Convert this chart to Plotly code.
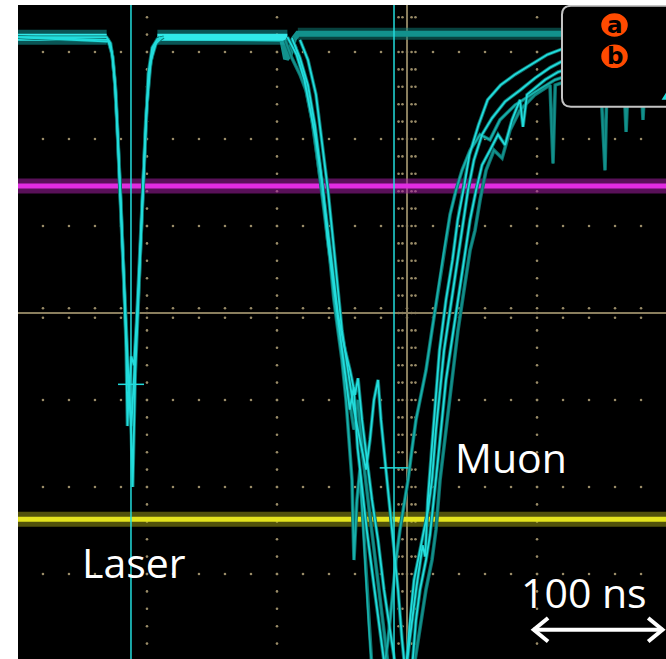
import plotly.graph_objects as go

# Oscilloscope capture: time in ns (0 = screen centre), amplitude in divisions
T_MIN, T_MAX = -299.2, 199.2
V_MIN, V_MAX = -3.977, 3.54

# channel baselines (divisions)
cyan_level = 3.17
cyan_idle_level = 3.21
magenta_level = 1.46
yellow_level = -2.37

# laser pulses (three overlaid sweeps)
laser_t_a = [-300, -231, -228, -226, -224, -222, -220, -218, -216, -215, -214, -212, -210, -208, -206, -204, -202, -199, -196, -192, -187]
laser_v_a = [3.17, 3.17, 3.10, 2.90, 2.55, 1.95, 1.25, 0.50, -0.40, -1.30, -0.90, -0.50, -0.60, -0.10, 0.55, 1.30, 1.95, 2.75, 3.05, 3.15, 3.17]
laser_t_b = [-300, -229.5, -226.5, -224.5, -222.5, -220.5, -218.5, -216.5, -214.5, -213, -212, -211, -210, -209, -207, -205, -203, -201, -198, -195, -190]
laser_v_b = [3.17, 3.12, 2.95, 2.60, 2.00, 1.30, 0.55, -0.30, -0.80, -1.10, -1.40, -2.00, -1.20, -0.70, 0.00, 0.70, 1.50, 2.20, 2.80, 3.05, 3.17]
laser_t_c = [-300, -230, -227, -225, -223, -221, -219, -217, -215, -213.5, -212, -210, -208, -206, -204, -202, -200, -197, -193, -188]
laser_v_c = [3.17, 3.14, 3.00, 2.70, 2.20, 1.50, 0.80, 0.10, -0.60, -1.00, -1.30, -0.80, -0.20, 0.40, 1.10, 1.80, 2.40, 2.90, 3.10, 3.17]

# muon pulses (overlaid sweeps)
muon_t_1 = [-92, -85, -79, -75, -70, -65, -61, -56, -50, -44, -41, -38, -35, -31, -25, -19, -15, -2, 2, 7, 12, 14, 16, 19, 22, 25, 30, 35, 39, 44, 48, 55, 62, 72, 83, 95, 108, 122, 148, 199]
muon_v_1 = [3.17, 2.97, 2.68, 2.39, 1.99, 1.47, 0.84, 0.26, -0.43, -1.11, -0.85, -1.55, -1.95, -2.49, -3.18, -3.87, -4.3, -4.3, -3.76, -3.18, -2.67, -2.80, -2.15, -1.57, -1.0, -0.43, 0.15, 0.61, 1.07, 1.46, 1.82, 2.16, 2.45, 2.62, 2.74, 2.85, 2.97, 3.05, 3.11, 3.16]
muon_t_2 = [-88.5, -82.3, -76.2, -70.8, -66.9, -62.3, -57.7, -53.1, -48.5, -43.8, -40, -37.7, -34.6, -30, -26.9, -22.3, -17.7, -13.1, -8.5, -0.8, 2.3, 5.4, 8.5, 13.1, 16.2, 19.2, 22.3, 25.4, 28.5, 33.1, 37.7, 42.3, 46.9, 51.5, 57.7, 65.4, 75.4, 86.9, 98.5, 110, 121.5, 148.5, 199.2]
muon_v_2 = [3.16, 2.93, 2.62, 2.16, 1.70, 1.13, 0.49, -0.02, -0.37, -0.66, -0.94, -0.75, -1.23, -1.80, -2.15, -2.61, -3.18, -3.64, -4.10, -4.10, -3.53, -3.07, -2.84, -2.49, -2.26, -1.92, -1.34, -0.89, -0.43, 0.03, 0.49, 0.95, 1.41, 1.76, 2.05, 2.24, 2.43, 2.56, 2.70, 2.82, 2.91, 3.02, 3.11]
muon_t_3 = [-82.3, -76.2, -70, -65.4, -60.8, -56.9, -53.1, -50, -45.4, -40.8, -36.2, -31.5, -28.5, -25.4, -22.3, -20, -16.2, -11.5, -6.9, -3.8, -1.5, 3.8, 6.9, 10, 14.6, 17.7, 20.8, 23.8, 26.9, 30, 34.6, 39.2, 43.8, 48.5, 53.1, 57.7, 63.8, 70, 75.4, 80.8, 86.9, 89.2, 92.3, 98.5, 106.2, 116.2, 148.5, 199.2]
muon_v_3 = [3.14, 2.91, 2.51, 1.99, 1.41, 0.84, 0.26, -0.20, -0.66, -1.11, -1.46, -1.80, -1.46, -1.0, -0.77, -1.23, -1.80, -2.49, -3.18, -3.76, -4.10, -4.10, -3.53, -3.18, -2.84, -2.55, -2.15, -1.69, -1.23, -0.77, -0.31, 0.15, 0.61, 1.07, 1.41, 1.70, 1.87, 2.05, 1.93, 2.22, 2.45, 2.14, 2.51, 2.59, 2.68, 2.77, 2.91, 3.05]
muon_t_4 = [-93.8, -88.5, -82.3, -77.7, -73.1, -68.5, -63.8, -59.2, -54.6, -50, -45.4, -40.8, -37.7, -34.6, -30, -25.4, -20.8, -16.2, -13.1, 3.8, 10, 14.6, 19.2, 22.3, 25.4, 30, 34.6, 39.2, 43.8, 48.5, 52.3, 56.2, 60.8, 66.9, 73.1, 79.2, 86.9, 98.5, 110, 112.3, 114, 148.5, 152.3, 154, 166.5, 168.5, 170.5, 179.5, 181.5, 183.5, 199.2]
muon_v_4 = [3.14, 2.93, 2.74, 2.56, 2.22, 1.76, 1.24, 0.72, 0.15, -0.37, -0.89, -1.34, -1.0, -1.57, -2.15, -2.72, -3.30, -3.87, -4.22, -4.22, -3.64, -3.18, -2.84, -2.49, -1.92, -1.34, -0.77, -0.20, 0.26, 0.72, 0.95, 1.30, 1.64, 1.87, 1.78, 2.10, 2.33, 2.51, 2.62, 1.72, 2.62, 2.79, 1.64, 2.79, 2.80, 2.08, 2.80, 2.82, 2.22, 2.85, 2.97]
muon_t_5 = [-86.2, -78.5, -73.1, -68.5, -63.8, -59.2, -56.2, -53.1, -50, -46.9, -44.6, -42.3, -40.8, -38.5, -36.2, -33.8, -31.5, -29.2, -26.9, -17.7, -14.6, -11.5, -8.5, -5.4, -2.3, 0.8, 3.8, 6.9, 10, 14.6, 19.2, 23.8, 28.5, 33.1, 37.7, 42.3, 48.5, 56.2, 63.8, 71.5, 83.1, 98.5, 113.8, 148.5, 199.2]
muon_v_5 = [3.08, 2.68, 2.28, 1.76, 1.18, 0.61, 0.15, -0.20, -0.54, -1.0, -1.46, -1.92, -2.84, -2.15, -1.80, -2.38, -3.07, -3.64, -4.10, -4.10, -3.76, -3.30, -2.84, -2.49, -2.21, -1.92, -1.57, -1.23, -1.0, -0.66, -0.20, 0.26, 0.72, 1.13, 1.41, 1.64, 1.87, 2.05, 1.99, 2.22, 2.39, 2.54, 2.68, 2.85, 3.02]

# sweep without a muon
idle_t = [-190, -96, -93, -90, -87, -84, 199.2]
idle_v = [3.17, 3.15, 2.92, 2.98, 3.15, 3.21, 3.21]

# cursors
cursor_t = [-212.3, -10.0]
cursor_mark_v = [-0.82, -1.78]
cursor_mark_half = [10.0, 11.0]

# labels and scale bar
label_text = ["Laser", "Muon"]
label_t = [-209.6, 80.0]
label_v = [-2.86, -1.65]
scale_bar_t0 = 97.0
scale_bar_ns = 100.0
scale_bar_v = -3.64
scale_label = "100 ns"

# graticule
minor_t = [-280 + 20 * i for i in range(24)]
major_t = [-200, -100, 100]
major_v = [-3, -2, -1, 1, 2, 3]
minor_v = [round(-3.8 + 0.2 * i, 1) for i in range(37)]

CYAN = "#22dcdc"
TEAL = "#12918c"
SHADOW = "#0c6f6b"
GRID = "#9a8c68"


def line(t, v, color, width, opacity=1.0):
    return go.Scatter(x=t, y=v, mode="lines", line=dict(color=color, width=width),
                      opacity=opacity, hoverinfo="skip", showlegend=False)


fig = go.Figure()

# graticule dots
gx, gy = [], []
for v in major_v:
    for t in minor_t:
        gx.append(t); gy.append(v)
for t in major_t:
    for v in minor_v:
        gx.append(t); gy.append(v)
for t in minor_t:
    gx += [t, t]; gy += [0.055, -0.055]
for v in minor_v:
    gx += [-6.5, -3.5, 3.5, 6.5]; gy += [v] * 4
fig.add_trace(go.Scatter(x=gx, y=gy, mode="markers", marker=dict(color=GRID, size=2.6),
                         hoverinfo="skip", showlegend=False))
# centre axes
fig.add_trace(line([T_MIN, T_MAX], [0, 0], "#8a7e5e", 2))
fig.add_trace(line([0, 0], [V_MIN, V_MAX], "#8a7e5e", 2))

# magenta and yellow channels
fig.add_trace(line([T_MIN, T_MAX], [magenta_level] * 2, "rgba(160,30,160,0.55)", 15))
fig.add_trace(line([T_MIN, T_MAX], [magenta_level] * 2, "#e02ce0", 5))
fig.add_trace(line([T_MIN, T_MAX], [yellow_level] * 2, "rgba(150,150,20,0.55)", 15))
fig.add_trace(line([T_MIN, T_MAX], [yellow_level] * 2, "#e4e41e", 5))

# cyan channel: idle sweep and baseline
fig.add_trace(line([-84, T_MAX], [cyan_idle_level] * 2, "rgba(15,120,115,0.55)", 12))
fig.add_trace(line(idle_t, idle_v, TEAL, 6))
for seg in ([T_MIN, -231], [-192, -92]):
    fig.add_trace(line(seg, [cyan_level] * 2, "rgba(20,170,170,0.5)", 15))
    fig.add_trace(line(seg, [cyan_level] * 2, "#30e8e8", 7))

# pulses: dark persistence underlay, then the bright traces
pulses = [(laser_t_a, laser_v_a), (laser_t_b, laser_v_b), (laser_t_c, laser_v_c),
          (muon_t_1, muon_v_1), (muon_t_2, muon_v_2), (muon_t_3, muon_v_3)]
for t, v in pulses + [(muon_t_4, muon_v_4), (muon_t_5, muon_v_5)]:
    fig.add_trace(line(t, v, SHADOW, 3.6))
fig.add_trace(line(muon_t_4, muon_v_4, TEAL, 1.8))
fig.add_trace(line(muon_t_5, muon_v_5, "#17b0ab", 1.8))
for t, v in pulses:
    fig.add_trace(line(t, v, CYAN, 1.8))

# cursors
for t, mv, h in zip(cursor_t, cursor_mark_v, cursor_mark_half):
    fig.add_trace(line([t, t], [V_MIN, V_MAX], CYAN, 1.5))
    fig.add_trace(line([t - h, t + h], [mv, mv], CYAN, 1.5))

# scale bar arrow
t1 = scale_bar_t0 + scale_bar_ns
fig.add_trace(line([scale_bar_t0, t1], [scale_bar_v] * 2, "white", 4))
fig.add_trace(line([scale_bar_t0 + 11.5, scale_bar_t0 + 0.5, scale_bar_t0 + 11.5],
                   [scale_bar_v + 0.135, scale_bar_v, scale_bar_v - 0.135], "white", 4))
fig.add_trace(line([t1 - 11.5, t1 - 0.5, t1 - 11.5],
                   [scale_bar_v + 0.135, scale_bar_v, scale_bar_v - 0.135], "white", 4))

# measurement badge box (top right)
L, T, B, R = 119.2, 3.53, 2.37, 215.0
dt, dv = 6.9, 0.103
box_path = (f"M {L},{B + dv} L {L},{T - dv} Q {L},{T} {L + dt},{T} L {R},{T} "
            f"L {R},{B} L {L + dt},{B} Q {L},{B} {L},{B + dv} Z")
shapes = [dict(type="path", path=box_path, xref="x", yref="y", fillcolor="black",
               line=dict(color="#c4c4c4", width=2), layer="above")]
badge_t = 159.6
badge_v = [3.31, 2.95]
for bv in badge_v:
    shapes.append(dict(type="circle", xref="x", yref="y", x0=badge_t - 10.2, x1=badge_t + 10.2,
                       y0=bv - 0.135, y1=bv + 0.135, fillcolor="#ff4a00",
                       line=dict(width=0), layer="above"))
shapes.append(dict(type="path", path="M 195.8,2.45 L 200,2.55 L 200,2.45 Z", xref="x", yref="y",
                   fillcolor=CYAN, line=dict(width=0), layer="above"))

annotations = []
for txt, bv in zip(["a", "b"], badge_v):
    annotations.append(dict(x=badge_t, y=bv, xref="x", yref="y", text=f"<b>{txt}</b>",
                            showarrow=False, font=dict(family="DejaVu Sans", size=23, color="black"),
                            xanchor="center", yanchor="middle"))
for txt, t, v in zip(label_text + [scale_label], label_t + [scale_bar_t0 + 39.5], label_v + [-3.21]):
    annotations.append(dict(x=t, y=v, xref="x", yref="y", text=txt, showarrow=False,
                            font=dict(family="Open Sans", size=41, color="white"),
                            xanchor="center", yanchor="middle"))

fig.update_layout(
    width=666, height=659,
    margin=dict(l=18, r=0, t=5, b=0),
    paper_bgcolor="white", plot_bgcolor="black",
    xaxis=dict(range=[T_MIN, T_MAX], visible=False, showgrid=False, zeroline=False, fixedrange=True),
    yaxis=dict(range=[V_MIN, V_MAX], visible=False, showgrid=False, zeroline=False, fixedrange=True),
    shapes=shapes, annotations=annotations, showlegend=False,
)

fig.write_html("out.html")
